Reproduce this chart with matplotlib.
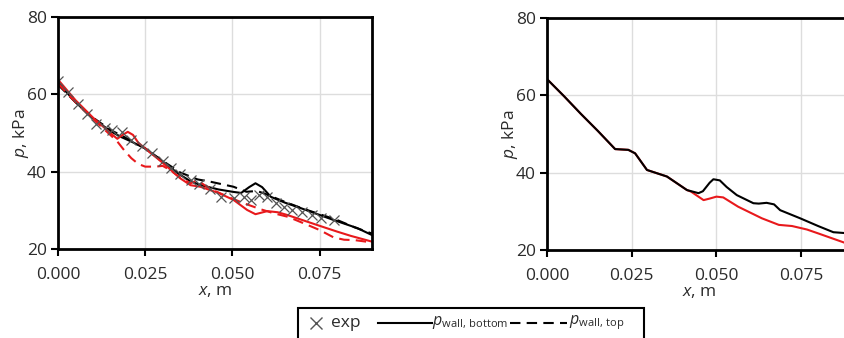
import matplotlib
matplotlib.use("Agg")
import matplotlib.pyplot as plt
from matplotlib.lines import Line2D
from matplotlib.patches import Rectangle

plt.rcParams["font.family"] = ["Open Sans", "DejaVu Sans"]
plt.rcParams["mathtext.fontset"] = "custom"
plt.rcParams["mathtext.rm"] = "Open Sans"
plt.rcParams["mathtext.it"] = "Open Sans:italic"

# left panel: experiment
exp_x = [0.0, 0.0028, 0.0056, 0.0084, 0.011, 0.0135, 0.0155, 0.0183, 0.021, 0.024, 0.027,
         0.030, 0.0325, 0.035, 0.038, 0.0405, 0.0435, 0.0466, 0.0504, 0.0532, 0.0552, 0.0575,
         0.060, 0.0624, 0.0647, 0.0672, 0.070, 0.0729, 0.0753, 0.079]
exp_p = [63.4, 60.5, 57.6, 54.8, 52.2, 51.2, 50.8, 50.3, 48.2, 46.6, 44.8,
         42.8, 41.0, 39.3, 37.8, 36.8, 35.6, 33.5, 33.1, 33.5, 32.7, 34.0,
         33.5, 31.9, 30.9, 30.1, 29.6, 28.8, 28.0, 27.5]

# left panel: black solid (bottom wall)
lb_x = [0.0, 0.005, 0.010, 0.015, 0.018, 0.021, 0.025, 0.030, 0.035, 0.038, 0.041, 0.046,
        0.050, 0.0525, 0.0548, 0.0566, 0.0585, 0.061, 0.065, 0.0695, 0.075, 0.079, 0.0858, 0.090]
lb_p = [63.0, 58.0, 53.8, 50.5, 49.0, 47.8, 46.0, 42.5, 39.2, 37.5, 36.5, 35.4,
        34.8, 34.5, 36.0, 37.0, 36.0, 33.5, 32.0, 30.6, 28.8, 27.5, 25.4, 23.6]

# left panel: black dashed (top wall)
lt_x = [0.0, 0.005, 0.010, 0.015, 0.020, 0.025, 0.030, 0.035, 0.040, 0.0437, 0.0503, 0.054,
        0.057, 0.059, 0.065, 0.070, 0.075, 0.080, 0.085, 0.090]
lt_p = [62.5, 58.0, 54.0, 50.8, 48.5, 46.0, 42.8, 39.8, 38.0, 37.4, 36.1, 34.8,
        35.0, 34.4, 32.2, 30.5, 29.0, 27.5, 25.6, 24.0]

# left panel: red solid
rb_x = [0.0, 0.005, 0.010, 0.015, 0.017, 0.0185, 0.020, 0.0215, 0.023, 0.025, 0.030, 0.035,
        0.038, 0.0408, 0.046, 0.0503, 0.0542, 0.0566, 0.060, 0.063, 0.0657, 0.070, 0.0743,
        0.080, 0.0839, 0.090]
rb_p = [63.8, 58.5, 54.0, 50.0, 48.5, 49.5, 50.3, 49.5, 47.5, 46.0, 42.3, 38.3,
        36.5, 36.1, 34.5, 32.7, 30.1, 29.0, 29.8, 29.5, 28.8, 27.5, 26.2,
        24.5, 23.4, 21.9]

# left panel: red dashed
rt_x = [0.0, 0.005, 0.010, 0.015, 0.017, 0.019, 0.021, 0.023, 0.025, 0.028, 0.030, 0.032,
        0.035, 0.038, 0.040, 0.042, 0.045, 0.050, 0.054, 0.058, 0.062, 0.066, 0.070, 0.075,
        0.079, 0.082, 0.085, 0.090]
rt_p = [62.8, 58.0, 53.6, 49.5, 47.8, 45.5, 43.5, 42.0, 41.3, 41.3, 41.5, 40.5,
        38.5, 37.0, 37.8, 36.5, 35.0, 33.0, 31.6, 30.3, 29.2, 28.3, 26.8, 24.9,
        23.0, 22.4, 22.3, 21.7]

# right panel
r_blk_x = [0.0, 0.005, 0.010, 0.015, 0.0201, 0.022, 0.024, 0.026, 0.0295, 0.0354, 0.0413,
           0.0447, 0.046, 0.048, 0.0491, 0.051, 0.053, 0.056, 0.0609, 0.0625, 0.0648, 0.067,
           0.0688, 0.0747, 0.080, 0.0845, 0.0876, 0.090]
r_blk_p = [64.2, 59.8, 55.2, 50.8, 46.1, 46.0, 45.9, 45.0, 40.7, 39.0, 35.5,
           34.7, 35.2, 37.4, 38.3, 38.0, 36.3, 34.2, 32.1, 32.0, 32.2, 31.8,
           30.3, 28.2, 26.2, 24.6, 24.4, 24.4]
r_red_x = [0.0, 0.005, 0.010, 0.015, 0.0201, 0.022, 0.024, 0.026, 0.0295, 0.0354, 0.0413,
           0.0425, 0.0462, 0.048, 0.050, 0.052, 0.0564, 0.0634, 0.0684, 0.0723, 0.0767,
           0.080, 0.0884, 0.090]
r_red_p = [64.2, 59.8, 55.2, 50.8, 46.1, 46.0, 45.9, 45.0, 40.7, 39.0, 35.5,
           35.1, 32.9, 33.3, 33.8, 33.6, 31.2, 28.2, 26.5, 26.2, 25.3,
           24.3, 21.7, 21.3]

RED = "#e8191c"
TXT = "#2b2b2b"

fig = plt.figure(figsize=(8.44, 3.38), dpi=100)
ax1 = fig.add_axes([58 / 844, 1 - 249 / 338, 314 / 844, 232 / 338])
ax2 = fig.add_axes([547 / 844, 1 - 250 / 338, 305 / 844, 232 / 338])

ax1.plot(lt_x, lt_p, color="black", lw=1.5, dashes=(5, 3))
ax1.plot(lb_x, lb_p, color="black", lw=1.5)
ax1.plot(rt_x, rt_p, color=RED, lw=1.5, dashes=(5, 3))
ax1.plot(rb_x, rb_p, color=RED, lw=1.5)
ax1.plot(exp_x, exp_p, ls="none", marker="x", ms=7, mew=0.9, color="#555555")

ax2.plot(r_red_x, r_red_p, color=RED, lw=1.5)
ax2.plot(r_blk_x, r_blk_p, color="black", lw=1.5)

for ax in (ax1, ax2):
    ax.set_xlim(0, 0.09)
    ax.set_ylim(20, 80)
    ax.set_xticks([0, 0.025, 0.05, 0.075])
    ax.set_xticklabels(["0.000", "0.025", "0.050", "0.075"])
    ax.set_yticks([20, 40, 60, 80])
    ax.grid(True, color="#dddddd", lw=1)
    ax.set_axisbelow(True)
    for s in ax.spines.values():
        s.set_linewidth(2)
        s.set_color("black")
    ax.tick_params(direction="out", length=5, width=1.5, labelsize=12.5,
                   labelcolor=TXT, pad=3)
    ax.tick_params(axis="x", pad=8)
    ax.set_xlabel(r"$x$, m", fontsize=12.5, color=TXT, labelpad=0)
    ax.set_ylabel(r"$p$, kPa", fontsize=12.5, color=TXT, labelpad=-3)


# legend drawn by hand (frame runs past the bottom edge)
def fx(px):
    return px / 844


def fy(py):
    return 1 - py / 338


ly = 323
fig.add_artist(Rectangle((fx(298), fy(350)), fx(644) - fx(298), fy(308) - fy(350),
                         transform=fig.transFigure, fill=False, ec="black", lw=1.5))
fig.add_artist(Line2D([fx(316)], [fy(ly)], transform=fig.transFigure, ls="none",
                      marker="x", ms=8, mew=1, color="#555555"))
fig.text(fx(331), fy(ly), "exp", fontsize=12.5, color=TXT, va="center")
fig.add_artist(Line2D([fx(378), fx(432)], [fy(ly), fy(ly)], transform=fig.transFigure,
                      color="black", lw=1.5))
fig.text(fx(432), fy(ly), r"$p_{\mathrm{wall,}\,\mathrm{bottom}}$", fontsize=11.5,
         color=TXT, va="center")
fig.add_artist(Line2D([fx(510), fx(567)], [fy(ly), fy(ly)], transform=fig.transFigure,
                      color="black", lw=1.5, dashes=(5, 3)))
fig.text(fx(569), fy(ly), r"$p_{\mathrm{wall,}\,\mathrm{top}}$", fontsize=11.5,
         color=TXT, va="center")

fig.savefig("out.png", dpi=100)
